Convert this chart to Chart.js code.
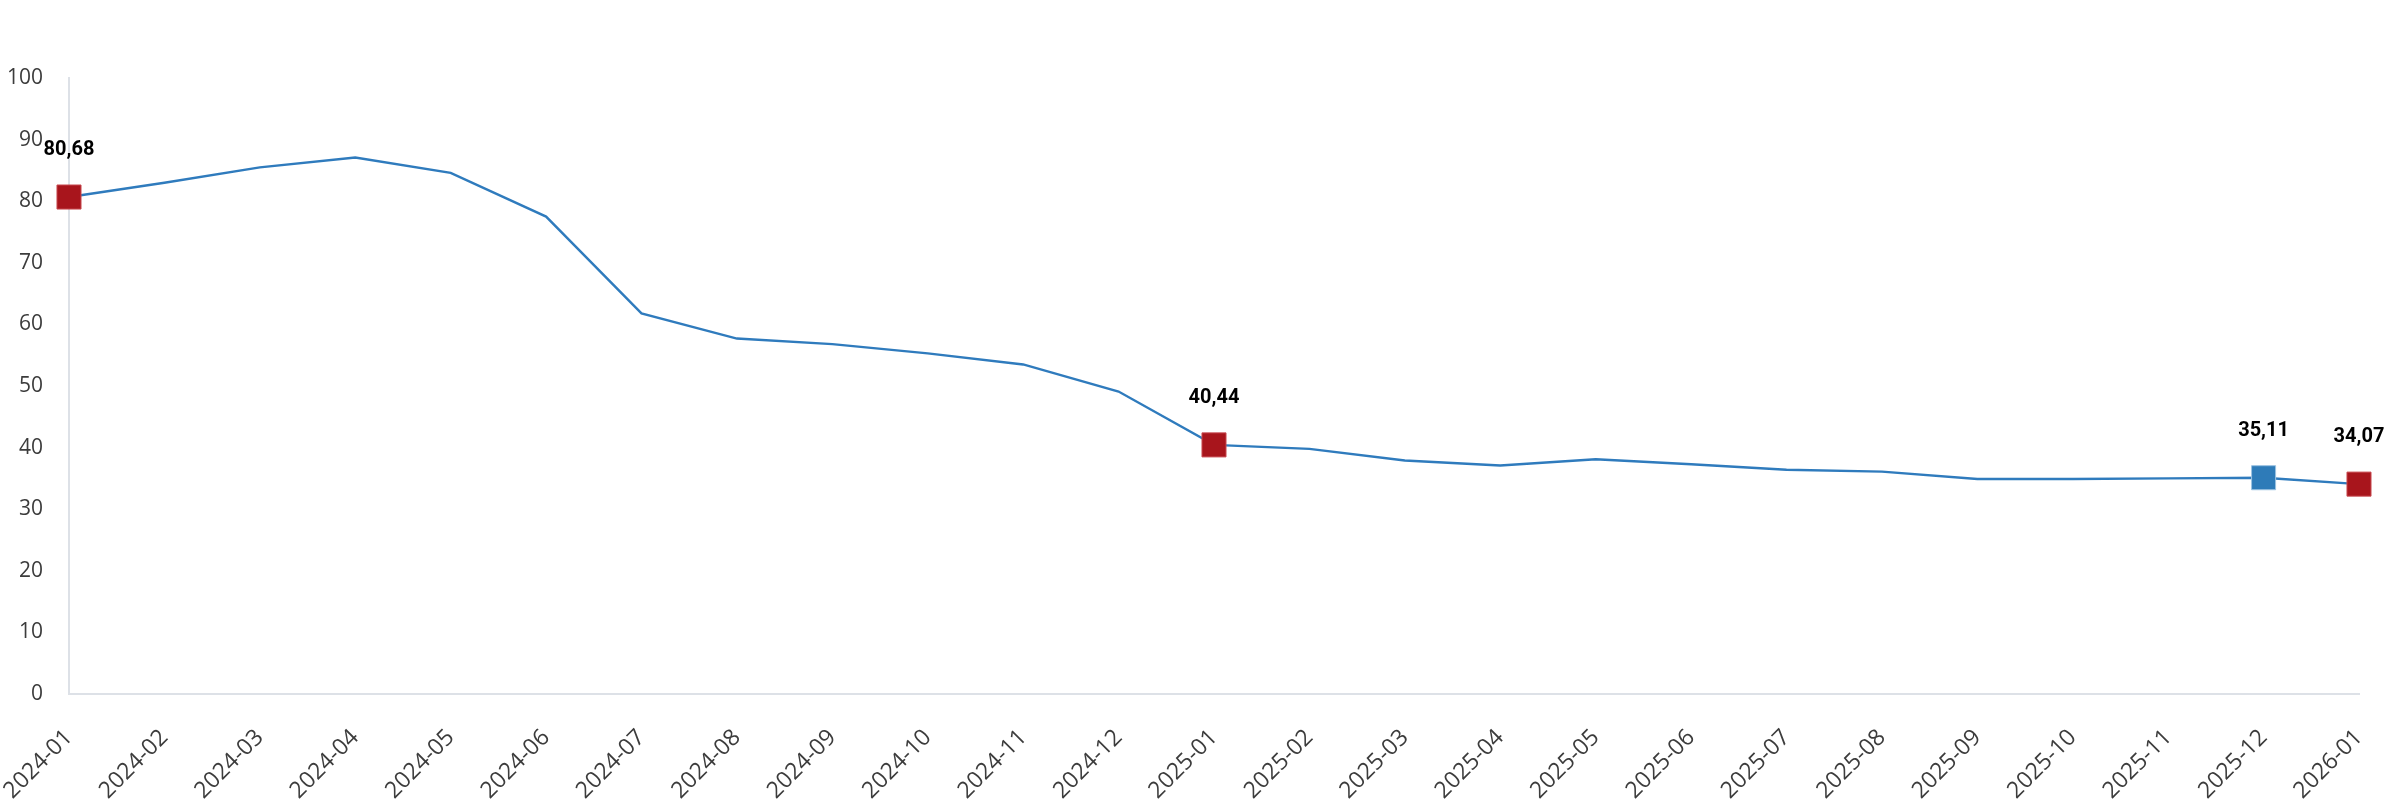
<!DOCTYPE html>
<html>
<head>
<meta charset="utf-8">
<script src="https://cdn.jsdelivr.net/npm/chart.js@4/dist/chart.umd.min.js"></script>
<style>
html,body{margin:0;padding:0;background:#fff;}
#wrap{width:2384px;height:800px;position:relative;}
</style>
</head>
<body>
<div id="wrap"><canvas id="c" width="2384" height="800"></canvas></div>
<script>
const categories = ['2024-01','2024-02','2024-03','2024-04','2024-05','2024-06','2024-07','2024-08','2024-09','2024-10','2024-11','2024-12','2025-01','2025-02','2025-03','2025-04','2025-05','2025-06','2025-07','2025-08','2025-09','2025-10','2025-11','2025-12','2026-01'];
const values = [80.68, 83.0, 85.5, 87.1, 84.6, 77.5, 61.8, 57.7, 56.8, 55.3, 53.5, 49.1, 40.44, 39.8, 37.9, 37.1, 38.1, 37.3, 36.4, 36.1, 34.9, 34.9, 35.0, 35.11, 34.07];
const redMarked = [0, 12, 24];
const blueMarked = [23];
const yMin = 0, yMax = 100, yStep = 10;

const RED = '#a8151c', RED_BORDER = '#c84a50';
const BLUE = '#2e7bb8', BLUE_BORDER = '#9cc3e2';
const LINE = '#2f7bbd';

function isMarked(i){ return redMarked.includes(i) || blueMarked.includes(i); }
function fmt(v){ return v.toFixed(2).replace('.', ','); }

const labelPlugin = {
  id: 'valueLabels',
  afterDatasetsDraw(chart){
    const ctx = chart.ctx;
    const meta = chart.getDatasetMeta(0);
    ctx.save();
    ctx.font = 'bold 20px Roboto';
    ctx.fillStyle = '#000';
    ctx.textAlign = 'center';
    ctx.textBaseline = 'middle';
    meta.data.forEach((pt, i) => {
      if (!isMarked(i)) return;
      ctx.fillText(fmt(values[i]), pt.x, pt.y - 47);
    });
    ctx.restore();
  }
};

new Chart(document.getElementById('c'), {
  type: 'line',
  data: {
    labels: categories,
    datasets: [{
      data: values,
      borderColor: LINE,
      borderWidth: 2.4,
      tension: 0,
      clip: false,
      pointStyle: 'rect',
      pointRadius: ctx => isMarked(ctx.dataIndex) ? 17 : 0,
      pointHoverRadius: ctx => isMarked(ctx.dataIndex) ? 17 : 0,
      pointBackgroundColor: ctx => blueMarked.includes(ctx.dataIndex) ? BLUE : RED,
      pointBorderColor: ctx => blueMarked.includes(ctx.dataIndex) ? BLUE_BORDER : RED_BORDER,
      pointBorderWidth: 1
    }]
  },
  options: {
    responsive: false,
    animation: false,
    events: [],
    layout: { padding: { top: 78, right: 25, left: 0, bottom: 0 } },
    plugins: { legend: { display: false }, tooltip: { enabled: false } },
    scales: {
      x: {
        offset: false,
        grid: { display: false, drawTicks: false },
        border: { display: true, color: '#dde1e7', width: 2 },
        ticks: {
          color: '#3c3c3c',
          font: { family: 'Open Sans', size: 23 },
          minRotation: 45, maxRotation: 45,
          autoSkip: false,
          padding: 30
        },
        afterFit(scale){ scale.height = 106; scale.paddingLeft = 0; scale.paddingRight = 0; }
      },
      y: {
        min: yMin, max: yMax,
        grid: { display: false, drawTicks: false },
        border: { display: true, color: '#dde1e7', width: 2 },
        ticks: {
          stepSize: yStep,
          color: '#3c3c3c',
          font: { family: 'Open Sans', size: 21 },
          padding: 26
        },
        afterFit(scale){ scale.width = 69; }
      }
    }
  },
  plugins: [labelPlugin]
});
</script>
</body>
</html>
